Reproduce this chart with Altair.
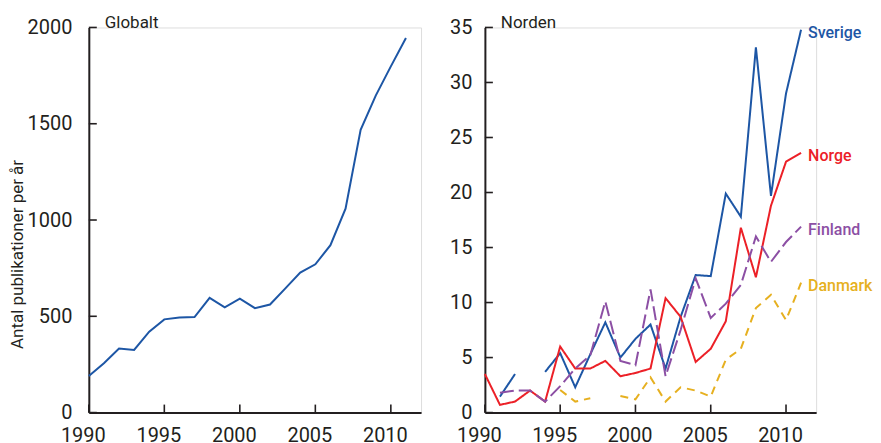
import altair as alt
import pandas as pd
import numpy as np

years = list(range(1990, 2012))

globalt = [190, 256, 333, 325, 420, 484, 494, 496, 596, 547, 592, 542, 561,
           644, 727, 770, 869, 1059, 1468, 1646, 1798, 1945]

N = None
sverige = [N, 1.45, 3.5, N, 3.7, 5.4, 2.3, 5.3, 8.2, 5.0, 6.7, 8.0, 4.0,
           8.7, 12.5, 12.4, 19.9, 17.8, 33.2, 19.7, 29.0, 34.8]
norge = [3.5, 0.7, 1.0, 2.0, 1.0, 6.0, 4.0, 4.0, 4.7, 3.3, 3.6, 4.0, 10.4,
         8.7, 4.6, 5.8, 8.3, 16.8, 12.3, 18.8, 22.8, 23.6]
finland = [N, 1.8, 2.0, 2.0, 1.0, 2.4, 4.0, 5.2, 10.1, 4.7, 4.3, 11.2, 3.3,
           7.5, 12.2, 8.6, 9.9, 11.6, 16.0, 13.7, 15.5, 16.9]
danmark = [N, N, N, N, N, 2.05, 1.0, 1.3, N, 1.5, 1.2, 3.2, 1.0,
           2.3, 2.0, 1.45, 4.8, 5.8, 9.5, 10.7, 8.4, 11.8]

countries = ["Sverige", "Norge", "Finland", "Danmark"]
colors = ["#1d56a5", "#ec2027", "#8c4fa4", "#e6b020"]
dashes = [[1, 0], [1, 0], [14, 5], [8, 6]]

left_yticks = [0, 500, 1000, 1500, 2000]
right_yticks = [0, 5, 10, 15, 20, 25, 30, 35]
xticks = [1990, 1995, 2000, 2005, 2010]

FONT = "Roboto"
TXT = "#231f20"
W, H = 333, 386

# long-form nordic data with segment ids for gaps
rows = []
for c, vals in zip(countries, [sverige, norge, finland, danmark]):
    seg = 0
    prev_none = True
    for y, v in zip(years, vals):
        if v is None:
            prev_none = True
            continue
        if prev_none:
            seg += 1
            prev_none = False
        rows.append({"year": y, "value": v, "country": c, "seg": f"{c}-{seg}"})
nordic = pd.DataFrame(rows)

labels = pd.DataFrame({
    "country": countries,
    "year": [2011] * 4,
    "value": [sverige[-1], norge[-1], finland[-1], danmark[-1]],
})

gdf = pd.DataFrame({"year": years, "value": globalt})

xscale = alt.Scale(domain=[1990, 2012], nice=False, zero=False)


def xaxis():
    return alt.Axis(values=xticks, format="d", tickSize=0, labelPadding=13,
                    labelOffset=-6, labelFontSize=20, labelFont=FONT,
                    labelColor=TXT, domainColor=TXT, domainWidth=2,
                    grid=False, title=None, labelFlush=False)


def ticks_layer(yticks, yscale):
    xt = alt.Chart(pd.DataFrame({"year": xticks})).mark_rule(
        color=TXT, strokeWidth=1.6).encode(
        x=alt.X("year:Q", scale=xscale),
        y=alt.value(H), y2=alt.value(H - 8))
    yt = alt.Chart(pd.DataFrame({"value": yticks})).mark_rule(
        color=TXT, strokeWidth=1.6).encode(
        y=alt.Y("value:Q", scale=yscale),
        x=alt.value(0), x2=alt.value(8))
    return xt + yt


# Left panel
lscale = alt.Scale(domain=[0, 2000], nice=False)
gline = alt.Chart(gdf).mark_line(color="#1d56a5", strokeWidth=2).encode(
    x=alt.X("year:Q", scale=xscale, axis=xaxis()),
    y=alt.Y("value:Q", scale=lscale,
            axis=alt.Axis(values=left_yticks, format="d", tickSize=0,
                          labelPadding=17,
                          labelFontSize=20, labelFont=FONT, labelColor=TXT,
                          domainColor=TXT, domainWidth=2, grid=False,
                          title="Antal publikationer per år",
                          titleFont=FONT, titleFontSize=17,
                          titleFontWeight="normal", titleColor=TXT,
                          titleX=-66, titleY=227, titleBaseline="alphabetic",
                          labelFlush=False)),
)
gtitle = alt.Chart(pd.DataFrame({"t": ["Globalt"]})).mark_text(
    align="left", baseline="alphabetic", font=FONT, fontSize=17, color=TXT
).encode(text="t:N", x=alt.value(16), y=alt.value(1))

left = alt.layer(gline, ticks_layer(left_yticks, lscale), gtitle).properties(
    width=W, height=H)

# Right panel
rscale = alt.Scale(domain=[0, 35], nice=False)
cscale = alt.Scale(domain=countries, range=colors)
nlines = alt.Chart(nordic).mark_line(strokeWidth=2).encode(
    x=alt.X("year:Q", scale=xscale, axis=xaxis()),
    y=alt.Y("value:Q", scale=rscale,
            axis=alt.Axis(values=right_yticks, tickSize=0, labelPadding=13,
                          labelFontSize=20, labelFont=FONT, labelColor=TXT,
                          domainColor=TXT, domainWidth=2, grid=False,
                          title=None, labelFlush=False)),
    color=alt.Color("country:N", scale=cscale, legend=None),
    strokeDash=alt.StrokeDash("country:N",
                              scale=alt.Scale(domain=countries, range=dashes),
                              legend=None),
    detail="seg:N",
)
ntext = alt.Chart(labels).mark_text(
    align="left", baseline="middle", dx=7, dy=3, font=FONT, fontSize=16,
    fontWeight=500
).encode(
    x=alt.X("year:Q", scale=xscale),
    y=alt.Y("value:Q", scale=rscale),
    text="country:N",
    color=alt.Color("country:N", scale=cscale, legend=None),
)
ntitle = alt.Chart(pd.DataFrame({"t": ["Norden"]})).mark_text(
    align="left", baseline="alphabetic", font=FONT, fontSize=17, color=TXT
).encode(text="t:N", x=alt.value(16), y=alt.value(1))

right = alt.layer(nlines, ntext, ticks_layer(right_yticks, rscale),
                  ntitle).properties(width=W - 1, height=H)

chart = alt.hconcat(left, right, spacing=27).resolve_scale(
    color="independent", strokeDash="independent"
).properties(padding={"top": 5, "left": 0, "right": 0, "bottom": 0}
).configure_view(stroke=None).configure(background="white")

chart.save("out.html", embed_options={"renderer": "svg", "actions": False})
